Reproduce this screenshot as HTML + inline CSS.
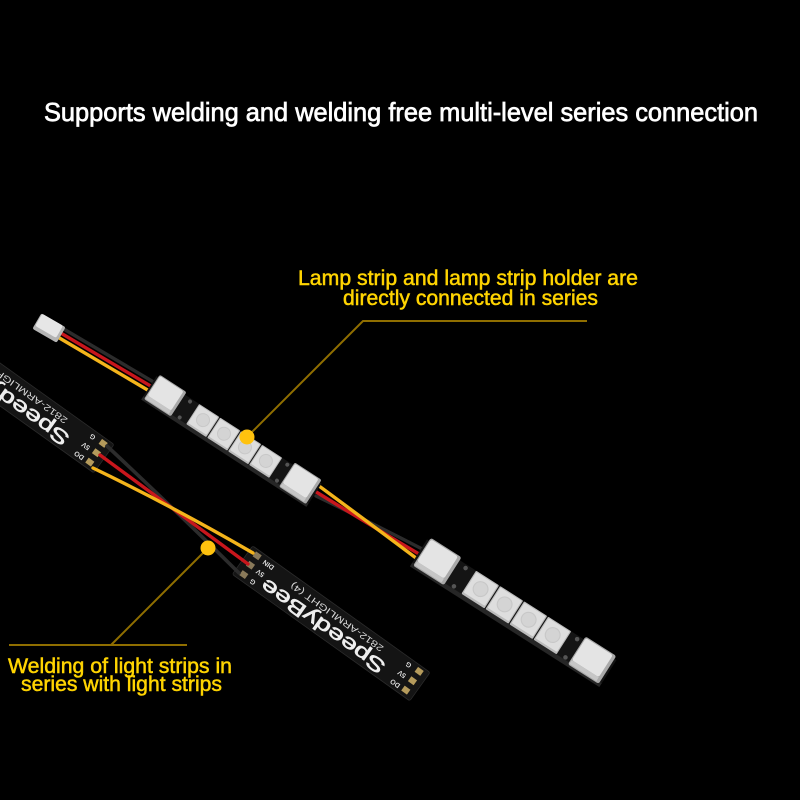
<!DOCTYPE html>
<html><head><meta charset="utf-8"><style>
html,body{margin:0;padding:0;background:#000;}
svg{display:block;}
</style></head><body>
<svg width="800" height="800" viewBox="0 0 800 800" xmlns="http://www.w3.org/2000/svg">
<rect width="800" height="800" fill="#000"/>
<defs>
  <g id="conn">
    <rect x="-16" y="-15" width="32" height="29" rx="2" fill="#a9a9a9"/>
    <rect x="-15" y="-14" width="28" height="23" rx="2" fill="#e4e4e4"/>
    <rect x="-15" y="9" width="28" height="4" fill="#c6c6c6"/>
  </g>
  <g id="led">
    <rect x="-12" y="-12" width="24" height="24" rx="1" fill="#bcbcbc"/>
    <rect x="-11" y="-11" width="22" height="21" rx="1" fill="#dedede"/>
    <circle cx="0" cy="-0.5" r="6.5" fill="#d4d4d4" stroke="#c8c8c8" stroke-width="1"/>
  </g>
  <g id="mod">
    <rect x="-18" y="-12" width="197" height="27" fill="#141414"/>
    <rect x="-18" y="12" width="197" height="4" fill="#262626"/>
    <circle cx="24" cy="10" r="2" fill="#555"/>
    <circle cx="24" cy="-9" r="2" fill="#555"/>
    <circle cx="140" cy="10" r="2" fill="#555"/>
    <circle cx="140" cy="-9" r="2" fill="#555"/>
    <use href="#conn" x="0" y="0"/>
    <use href="#led" x="45" y="0"/>
    <use href="#led" x="70" y="0"/>
    <use href="#led" x="95" y="0"/>
    <use href="#led" x="120" y="0"/>
    <use href="#conn" x="161" y="0"/>
  </g>
  <g id="board">
    <rect x="-4" y="-17" width="218" height="35" rx="2" fill="#141414" stroke="#2b2b2b" stroke-width="0.8"/>
    <rect x="2" y="-14.5" width="7" height="6" fill="#8a7a5a"/>
    <rect x="2" y="-3" width="7" height="6" fill="#8a7a5a"/>
    <rect x="2" y="8.5" width="7" height="6" fill="#8a7a5a"/>
    <rect x="201" y="-14.5" width="7" height="6" fill="#b59b5c"/>
    <rect x="201" y="-3" width="7" height="6" fill="#b59b5c"/>
    <rect x="201" y="8.5" width="7" height="6" fill="#b59b5c"/>
    <g fill="#dcdcdc" font-family="Liberation Sans, sans-serif" font-size="7" font-weight="bold" text-anchor="middle">
      <text transform="translate(20,-11.5) rotate(180)" dominant-baseline="central">DIN</text>
      <text transform="translate(18,0) rotate(180)" dominant-baseline="central">5V</text>
      <text transform="translate(17,11.5) rotate(180)" dominant-baseline="central">G</text>
      <text transform="translate(192,-11.5) rotate(180)" dominant-baseline="central">G</text>
      <text transform="translate(192,0) rotate(180)" dominant-baseline="central">5V</text>
      <text transform="translate(192,11.5) rotate(180)" dominant-baseline="central">DO</text>
    </g>
    <text transform="translate(100,7) rotate(180)" text-anchor="middle" dominant-baseline="central" font-family="Liberation Sans, sans-serif" font-size="20" fill="#eeeeee" stroke="#eeeeee" stroke-width="0.6" textLength="148" lengthAdjust="spacingAndGlyphs">SpeedyBee</text>
    <text transform="translate(106,-8) rotate(180)" text-anchor="middle" dominant-baseline="central" font-family="Liberation Sans, sans-serif" font-size="9" fill="#d8d8d8" textLength="112" lengthAdjust="spacingAndGlyphs">2812-ARMLIGHT (4)</text>
  </g>
</defs>

<!-- SpeedyBee boards -->
<use href="#board" transform="translate(-70,334) rotate(35.5)"/>
<use href="#board" transform="translate(246,562) rotate(35.5)"/>

<!-- wires between SpeedyBee boards -->
<g fill="none" stroke-linecap="round">
  <path d="M107,446 Q170,505 239,573" stroke="#2c2c2c" stroke-width="3.6"/>
  <path d="M100,455 Q172,508 248,564" stroke="#c8161c" stroke-width="3.4"/>
  <path d="M93,468 Q172,506 253,553" stroke="#f4b41b" stroke-width="3.4"/>
</g>

<!-- top-left cable and connector -->
<g fill="none" stroke-linecap="round">
  <path d="M62,328 L157,384" stroke="#2c2c2c" stroke-width="3.4"/>
  <path d="M59,332 L154,388" stroke="#c8161c" stroke-width="3.4"/>
  <path d="M56,336 L151,392" stroke="#f4b41b" stroke-width="3.4"/>
</g>
<g transform="translate(49,328) rotate(30)">
  <rect x="-14" y="-9" width="28" height="18" rx="2" fill="#b5b5b5"/>
  <rect x="-13" y="-9" width="24" height="14" rx="2" fill="#e6e6e6"/>
</g>

<!-- cable between modules -->
<g fill="none" stroke-linecap="round">
  <path d="M316,496 Q370,522 428,552" stroke="#2c2c2c" stroke-width="3.4"/>
  <path d="M313,490 Q370,525 424,557" stroke="#c8161c" stroke-width="3.4"/>
  <path d="M315,483 Q368,522 420,561" stroke="#f4b41b" stroke-width="3.4"/>
</g>

<!-- LED modules -->
<use href="#mod" transform="translate(165,396) rotate(33)"/>
<use href="#mod" transform="translate(437,562) rotate(32.5) scale(1.14)"/>

<!-- callout lines -->
<g stroke="#8f6e00" stroke-width="2" fill="none">
  <path d="M587,321 L363,321 L247,437"/>
  <path d="M9,645 L187,645 M111,645 L208,548"/>
</g>
<circle cx="247" cy="437" r="7.5" fill="#ffc20e"/>
<circle cx="208" cy="548" r="7.5" fill="#ffc20e"/>

<!-- texts -->
<text x="44" y="121" font-family="Liberation Sans, sans-serif" font-size="26" fill="#ffffff" stroke="#ffffff" stroke-width="0.7" textLength="714" lengthAdjust="spacingAndGlyphs">Supports welding and welding free multi-level series connection</text>
<g font-family="Liberation Sans, sans-serif" font-size="21" fill="#ffd400" stroke="#ffd400" stroke-width="0.5">
  <text x="298" y="285" textLength="340" lengthAdjust="spacingAndGlyphs">Lamp strip and lamp strip holder are</text>
  <text x="343" y="305" textLength="255" lengthAdjust="spacingAndGlyphs">directly connected in series</text>
  <text x="8" y="673" textLength="224" lengthAdjust="spacingAndGlyphs">Welding of light strips in</text>
  <text x="21" y="691" textLength="201" lengthAdjust="spacingAndGlyphs">series with light strips</text>
</g>
</svg>
</body></html>
